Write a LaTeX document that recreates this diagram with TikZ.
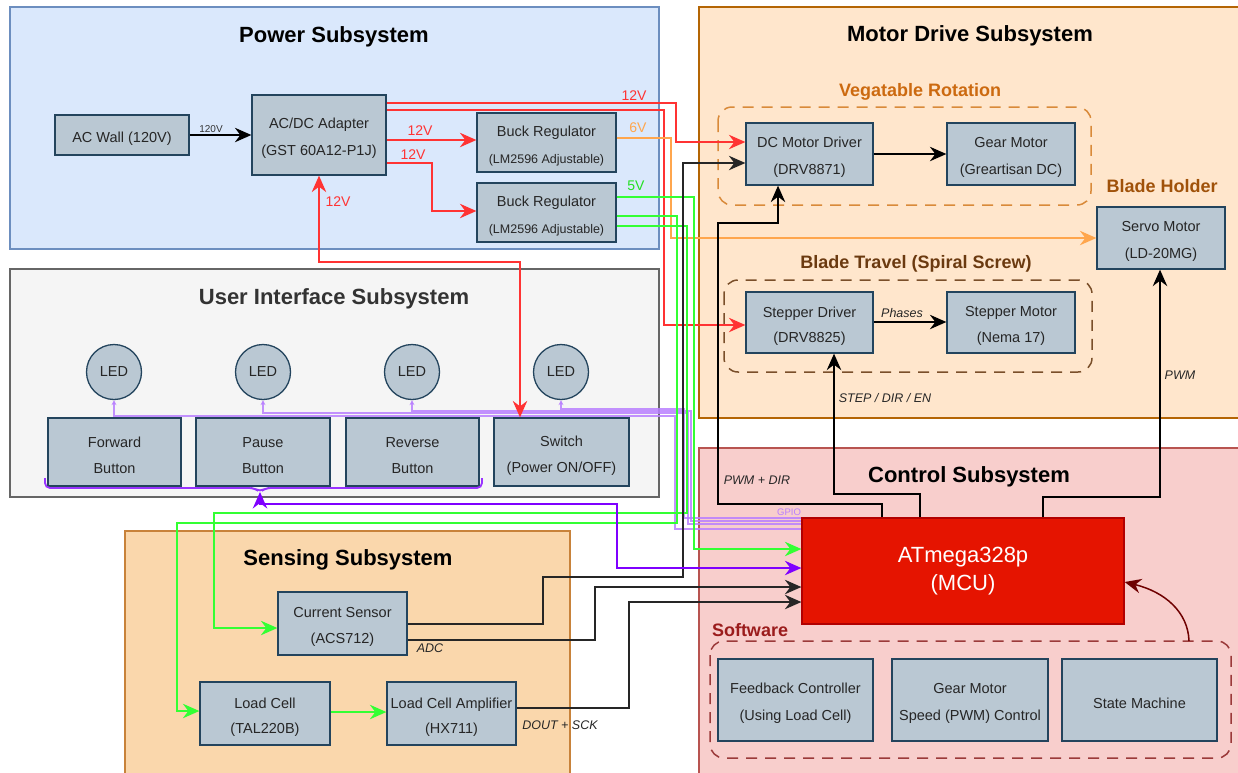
\documentclass[tikz,border=0pt]{standalone}
\usepackage{fontspec}
\setmainfont{Liberation Sans}
\usetikzlibrary{arrows.meta}
\definecolor{boxfill}{HTML}{BAC8D3}
\definecolor{boxline}{HTML}{23445D}
\definecolor{pwrfill}{HTML}{DAE8FC}
\definecolor{pwrline}{HTML}{6C8EBF}
\definecolor{motfill}{HTML}{FFE6CC}
\definecolor{motline}{HTML}{B46504}
\definecolor{uifill}{HTML}{F5F5F5}
\definecolor{uiline}{HTML}{666666}
\definecolor{senfill}{HTML}{FAD7AC}
\definecolor{senline}{HTML}{C8823A}
\definecolor{ctlfill}{HTML}{F8CECC}
\definecolor{ctlline}{HTML}{B85450}
\definecolor{mcufill}{HTML}{E51400}
\definecolor{mculine}{HTML}{B20000}
\definecolor{wred}{HTML}{FF3333}
\definecolor{worange}{HTML}{FFA64D}
\definecolor{wgreen}{HTML}{33FF33}
\definecolor{tgreen}{HTML}{22E022}
\definecolor{wpurple}{HTML}{7F00FF}
\definecolor{wlpurple}{HTML}{B97FFF}
\definecolor{vegc}{HTML}{CC6A10}
\definecolor{vegd}{HTML}{D98A3A}
\definecolor{bladec}{HTML}{6B3A10}
\definecolor{bladed}{HTML}{7A4F2A}
\definecolor{holderc}{HTML}{A0520A}
\definecolor{swc}{HTML}{9B1C1C}
\definecolor{swd}{HTML}{9B3A3A}
\definecolor{curvec}{HTML}{6F0000}
\tikzset{
 panel/.style={line width=1.3pt},
 boxshape/.style={draw=boxline, fill=boxfill, line width=1.3pt, inner sep=0pt},
 boxtxt/.style={align=center, inner sep=0pt, font=\fontsize{14.5}{27}\selectfont, text=black!85},
 boxtxtb/.style={boxtxt, font=\fontsize{14.5}{25.5}\selectfont},
 ledc/.style={circle, draw=boxline, fill=boxfill, line width=1.3pt, minimum size=55pt, inner sep=0pt,
   font=\fontsize{14.5}{17}\selectfont, text=black!85},
 ptitle/.style={font=\bfseries\fontsize{22}{24}\selectfont},
 grouplbl/.style={font=\bfseries\fontsize{18}{20}\selectfont},
 wire/.style={line width=1.4pt},
 arr/.style={-{Stealth[length=16.5pt,width=14.5pt,inset=5.5pt]}},
 barr/.style={{Stealth[length=16.5pt,width=14.5pt,inset=5.5pt]}-{Stealth[length=16.5pt,width=14.5pt,inset=5.5pt]}},
 lbl/.style={font=\itshape\fontsize{12.5}{14}\selectfont, text=black!85},
 vlbl/.style={font=\fontsize{14}{16}\selectfont},
 ledw/.style={draw=wlpurple, line width=1.3pt, {Stealth[length=5pt,width=5pt]}-},
 grp/.style={dashed, dash pattern=on 11pt off 8pt, line width=1.5pt, rounded corners=14pt},
}
% \mkbox[text style]{name}{x}{y}{w}{h}{text}
\newcommand\mkbox[7][boxtxt]{%
  \node[boxshape, minimum width=#5pt, minimum height=#6pt] (#2) at (#3,#4) {};
  \node[#1] (#2t) at (#3,#4+3.5) {#7};}
\begin{document}
\begin{tikzpicture}[x=1pt,y=-1pt]
\useasboundingbox (0,0) rectangle (1238,772);
\fill[white] (0,0) rectangle (1238,772);

% ---------- panels ----------
\draw[panel, draw=pwrline, fill=pwrfill] (10,7) rectangle (659,249);
\draw[panel, draw=motline, fill=motfill] (699,7) rectangle (1242,418);
\draw[panel, draw=uiline, fill=uifill] (10,269) rectangle (659,497);
\draw[panel, draw=senline, fill=senfill] (125,531) rectangle (570,776);
\draw[panel, draw=ctlline, fill=ctlfill] (699,448) rectangle (1242,776);

\node[ptitle] (tpow) at (334,36.5) {Power Subsystem};
\node[ptitle] (tmot) at (970,35.5) {Motor Drive Subsystem};
\node[ptitle, text=black!80] (tui) at (334,299) {User Interface Subsystem};
\node[ptitle] (tsen) at (348,560) {Sensing Subsystem};
\node[ptitle] (tctl) at (969,477) {Control Subsystem};

% ---------- groups ----------
\draw[grp, draw=vegd] (718,107) rectangle (1091,205);
\node[grouplbl, text=vegc] (tveg) at (920,91.5) {Vegatable Rotation};
\draw[grp, draw=bladed] (724,280) rectangle (1092,372);
\node[grouplbl, text=bladec] (tblade) at (916,264) {Blade Travel (Spiral Screw)};
\node[grouplbl, text=holderc] (tholder) at (1162,186) {Blade Holder};
\draw[grp, draw=swd] (710,641) rectangle (1231,758);
\node[grouplbl, text=swc] (tsw) at (750,630) {Software};
\coordinate (swtop) at (1189,641);

% ---------- power boxes ----------
\mkbox{acwall}{122}{135}{134}{40}{AC Wall (120V)}
\mkbox{adapter}{319}{135}{134}{80}{AC/DC Adapter\\(GST 60A12-P1J)}
\mkbox{buck1}{546.5}{142.5}{139}{59}{Buck Regulator\\{\fontsize{12.5}{27}\selectfont(LM2596 Adjustable)}}
\mkbox{buck2}{546.5}{212.5}{139}{59}{Buck Regulator\\{\fontsize{12.5}{27}\selectfont(LM2596 Adjustable)}}

% ---------- motor boxes ----------
\mkbox{dcdrv}{809.5}{154}{127}{62}{DC Motor Driver\\(DRV8871)}
\mkbox{gear}{1011}{154}{128}{62}{Gear Motor\\(Greartisan DC)}
\mkbox{servo}{1161}{238}{128}{62}{Servo Motor\\(LD-20MG)}
\mkbox[boxtxtb]{stepdrv}{809.5}{322.5}{127}{61}{Stepper Driver\\(DRV8825)}
\mkbox[boxtxtb]{stepmot}{1011}{322.5}{128}{61}{Stepper Motor\\(Nema 17)}

% ---------- UI ----------
\node[ledc] (led1) at (114,372) {\raisebox{-1.5pt}{LED}};
\node[ledc] (led2) at (263,372) {\raisebox{-1.5pt}{LED}};
\node[ledc] (led3) at (412,372) {\raisebox{-1.5pt}{LED}};
\node[ledc] (led4) at (561,372) {\raisebox{-1.5pt}{LED}};
\mkbox[boxtxtb]{fwd}{114.5}{452}{133}{68}{Forward\\Button}
\mkbox[boxtxtb]{pause}{263}{452}{134}{68}{Pause\\Button}
\mkbox[boxtxtb]{rev}{412.5}{452}{133}{68}{Reverse\\Button}
\mkbox[boxtxtb]{switch}{561.5}{452}{135}{68}{Switch\\(Power ON/OFF)}

% ---------- sensing ----------
\mkbox[boxtxtb]{cursens}{342.5}{623.5}{129}{63}{Current Sensor\\(ACS712)}
\mkbox[boxtxtb]{loadcell}{265}{713.5}{130}{63}{Load Cell\\(TAL220B)}
\mkbox[boxtxtb]{amp}{451.5}{713.5}{129}{63}{Load Cell Amplifier\\(HX711)}

% ---------- control ----------
\node[draw=mculine, fill=mcufill, line width=1.3pt, minimum width=322pt, minimum height=106pt,
  align=center, text=white, font=\fontsize{22}{28}\selectfont] (mcu) at (963,571) {ATmega328p\\(MCU)};
\mkbox{fb}{795.5}{700}{155}{82}{Feedback Controller\\(Using Load Cell)}
\mkbox{gms}{970}{700}{156}{82}{Gear Motor\\Speed (PWM) Control}
\mkbox{sm}{1139.5}{700}{155}{82}{State Machine}

% ---------- LED / GPIO lines ----------
\begin{scope}[opacity=0.85]
\draw[ledw] (led1.south) -- (114,416) -- (675,416) -- (675,529) -- (mcu.west |- 0,529);
\draw[ledw] (led2.south) -- (263,413) -- (688,413) -- (688,524) -- (mcu.west |- 0,524);
\draw[ledw] (led3.south) -- (412,411) -- (691,411) -- (691,521) -- (mcu.west |- 0,521);
\draw[ledw] (led4.south) -- (561,409) -- (684,409) -- (684,518) -- (mcu.west |- 0,518);
\end{scope}
\node[font=\fontsize{9.5}{11}\selectfont, text=wlpurple] (gpio) at (789,512) {GPIO};

% ---------- red 12V ----------
\draw[wire, draw=wred, arr] (adapter.east |- 0,103) -- (676,103) -- (676,142) -- (dcdrv.west |- 0,142);
\draw[wire, draw=wred, arr] (adapter.east |- 0,110) -- (664,110) -- (664,325) -- (stepdrv.west |- 0,325);
\draw[wire, draw=wred, arr] (adapter.east |- 0,140) -- (buck1.west |- 0,140);
\draw[wire, draw=wred, arr] (adapter.east |- 0,163) -- (432,163) -- (432,211) -- (buck2.west |- 0,211);
\draw[wire, draw=wred, barr] (adapter.south) -- (319,262) -- (520,262) -- (switch.north -| 520,0);
\node[vlbl, text=wred] (v1) at (634,96) {12V};
\node[vlbl, text=wred] (v2) at (420,131) {12V};
\node[vlbl, text=wred] (v3) at (413,155) {12V};
\node[vlbl, text=wred] (v4) at (338,202) {12V};

% ---------- orange 6V ----------
\draw[wire, draw=worange, arr] (buck1.east |- 0,138) -- (671,138) -- (671,238) -- (servo.west |- 0,238);
\node[vlbl, text=worange] (v5) at (638,128) {6V};

% ---------- green 5V ----------
\draw[wire, draw=wgreen, arr] (buck2.east |- 0,197) -- (694,197) -- (694,549) -- (mcu.west |- 0,549);
\draw[wire, draw=wgreen, arr] (buck2.east |- 0,216) -- (677,216) -- (677,523) -- (177,523) -- (177,711) -- (loadcell.west |- 0,711);
\draw[wire, draw=wgreen, arr] (buck2.east |- 0,226) -- (687,226) -- (687,513) -- (214,513) -- (214,628) -- (cursens.west |- 0,628);
\draw[wire, draw=wgreen, arr] (loadcell.east |- 0,712) -- (amp.west |- 0,712);
\node[vlbl, text=tgreen] (v6) at (636,186) {5V};

% ---------- black signal wires ----------
\draw[wire, arr] (acwall) -- (adapter);
\node[font=\fontsize{10}{12}\selectfont, text=black!80] (v0) at (211,129) {120V};
\draw[wire, arr] (dcdrv) -- (gear);
\draw[wire, arr] (stepdrv.east |- 0,322) -- (stepmot.west |- 0,322);
\node[lbl] (lph) at (902,313) {Phases};
\draw[wire, draw=black!85, arr] (cursens.east |- 0,624) -- (543,624) -- (543,577) -- (683,577) -- (683,163) -- (dcdrv.west |- 0,163);
\draw[wire, draw=black!85, arr] (cursens.east |- 0,640) -- (595,640) -- (595,587) -- (mcu.west |- 0,587);
\node[lbl] (ladc) at (430,648) {ADC};
\draw[wire, draw=black!85, arr] (amp.east |- 0,708) -- (629,708) -- (629,602) -- (mcu.west |- 0,602);
\node[lbl] (ldout) at (560,725) {DOUT + SCK};
\draw[wire, arr] (mcu.north -| 882,0) -- (882,504) -- (718,504) -- (718,223) -- (778,223) -- (dcdrv.south -| 778,0);
\node[lbl] (lpwmdir) at (757,480) {PWM + DIR};
\draw[wire, arr] (mcu.north -| 920,0) -- (920,494) -- (834,494) -- (stepdrv.south -| 834,0);
\node[lbl] (lstep) at (885,398) {STEP / DIR / EN};
\draw[wire, arr] (mcu.north -| 1043,0) -- (1043,497) -- (1160,497) -- (servo.south -| 1160,0);
\node[lbl] (lpwm) at (1180,375) {PWM};

% ---------- purple buttons bus ----------
\coordinate (brl) at (45,478);
\coordinate (brr) at (482,478);
\draw[line width=1.8pt, draw=wpurple!80, rounded corners=5pt] (brl) -- (45,488) -- (254,488) -- (260,492) -- (266,488) -- (482,488) -- (brr);
\coordinate (bracetip) at (260,492);
\draw[wire, draw=wpurple, barr] (bracetip) -- (260,504) -- (617,504) -- (617,568) -- (mcu.west |- 0,568);

% ---------- software -> MCU ----------
\draw[line width=1.5pt, draw=curvec, -{Stealth[length=16.5pt,width=14.5pt,inset=5.5pt]}] (swtop) .. controls (1188,612) and (1165,592) .. (mcu.east |- 0,582);
\end{tikzpicture}
\end{document}
